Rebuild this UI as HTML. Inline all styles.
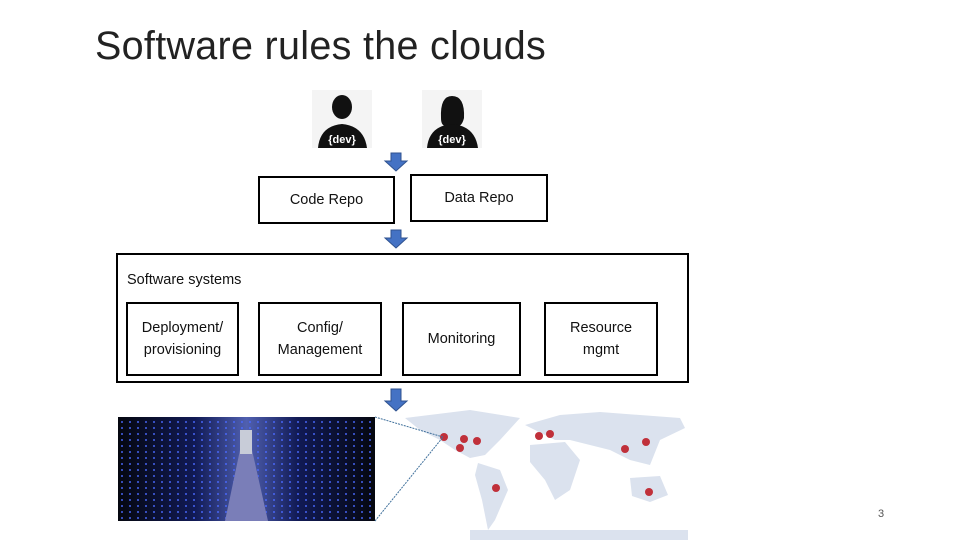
<!DOCTYPE html>
<html><head><meta charset="utf-8"><style>
body{margin:0;width:960px;height:540px;background:#fff;position:relative;overflow:hidden;font-family:"Liberation Sans",sans-serif;}
.a{position:absolute}
.box{position:absolute;border:2px solid #000;box-sizing:border-box;display:flex;align-items:center;justify-content:center;text-align:center;font-size:14.5px;line-height:22px;color:#111;background:#fff}
</style></head><body>
<div class="a" style="left:95px;top:24px;font-size:39.5px;color:#222;font-weight:300;letter-spacing:0.3px">Software rules the clouds</div>

<svg class="a" style="left:0;top:0" width="960" height="540">
 <rect x="312" y="90" width="60" height="58" fill="#f4f4f4"/>
 <rect x="422" y="90" width="60" height="58" fill="#f4f4f4"/>
 <g fill="#111">
  <ellipse cx="342" cy="107" rx="10" ry="12"/>
  <path d="M318 148 Q320 126 342 124 Q364 126 367 148Z"/>
  <path d="M441 118 Q440 96 452 96 Q465 96 464 118 Q462 126 458 126 L446 126 Q441 126 441 118Z"/>
  <path d="M427 148 Q429 126 452 124 Q475 126 478 148Z"/>
 </g>
 <text x="342" y="143" font-size="11" font-weight="bold" fill="#fff" text-anchor="middle" font-family="Liberation Sans">{dev}</text>
 <text x="452" y="143" font-size="11" font-weight="bold" fill="#fff" text-anchor="middle" font-family="Liberation Sans">{dev}</text>
 <g fill="#4472c4" stroke="#2f528f" stroke-width="1">
  <path d="M391 153h10v8h6l-11 10l-11-10h6z"/>
  <path d="M391 230h10v8h6l-11 10l-11-10h6z"/>
  <path d="M391 389h10v12h6l-11 10l-11-10h6z"/>
 </g>
 <defs><linearGradient id="dc" x1="0" x2="1"><stop offset="0" stop-color="#05070f"/><stop offset=".3" stop-color="#111a55"/><stop offset=".5" stop-color="#5060b0"/><stop offset=".7" stop-color="#111a55"/><stop offset="1" stop-color="#05070f"/></linearGradient>
 <pattern id="lt" width="8" height="6" patternUnits="userSpaceOnUse"><rect x="1" y="1" width="2" height="2" fill="#4a6aff" opacity=".7"/></pattern></defs>
 <rect x="118" y="417" width="257" height="104" fill="url(#dc)"/>
 <rect x="118" y="417" width="257" height="104" fill="url(#lt)"/>
 <path d="M225 521 L240 450 L252 450 L268 521Z" fill="#7a7eb8"/>
 <rect x="240" y="430" width="12" height="24" fill="#c8ccd8"/>
 <g fill="#dbe2ee">
  <path d="M405 418 L470 410 L520 418 L500 440 L485 455 L470 458 L455 450 L440 440 L420 430Z"/>
  <path d="M478 463 L500 470 L508 490 L495 520 L488 530 L482 500 L475 475Z"/>
  <path d="M525 425 L560 415 L600 412 L680 418 L685 428 L660 440 L650 465 L630 460 L610 450 L590 445 L570 440 L555 440Z"/>
  <path d="M530 445 L565 442 L580 460 L570 490 L555 500 L545 480 L530 462Z"/>
  <path d="M630 478 L660 476 L668 495 L650 502 L632 496Z"/>
  <path d="M470 530 L688 530 L688 540 L470 540Z"/>
 </g>
 <g fill="#c0303a">
  <circle cx="444" cy="437" r="4"/><circle cx="464" cy="439" r="4"/><circle cx="477" cy="441" r="4"/><circle cx="460" cy="448" r="4"/>
  <circle cx="539" cy="436" r="4"/><circle cx="550" cy="434" r="4"/><circle cx="625" cy="449" r="4"/><circle cx="646" cy="442" r="4"/>
  <circle cx="496" cy="488" r="4"/><circle cx="649" cy="492" r="4"/>
 </g>
 <line x1="375" y1="417" x2="443" y2="437" stroke="#41719c" stroke-dasharray="2 1"/>
 <line x1="375" y1="521" x2="443" y2="437" stroke="#41719c" stroke-dasharray="2 1"/>
</svg>

<div class="box" style="left:258px;top:176px;width:137px;height:48px">Code Repo</div>
<div class="box" style="left:410px;top:174px;width:138px;height:48px">Data Repo</div>
<div class="a" style="left:116px;top:253px;width:573px;height:130px;border:2px solid #000;box-sizing:border-box"></div>
<div class="a" style="left:127px;top:272px;font-size:14.5px;color:#111">Software systems</div>
<div class="box" style="left:126px;top:302px;width:113px;height:74px">Deployment/<br>provisioning</div>
<div class="box" style="left:258px;top:302px;width:124px;height:74px">Config/<br>Management</div>
<div class="box" style="left:402px;top:302px;width:119px;height:74px">Monitoring</div>
<div class="box" style="left:544px;top:302px;width:114px;height:74px">Resource<br>mgmt</div>
<div class="a" style="left:878px;top:508px;font-size:11px;color:#555">3</div>
</body></html>
